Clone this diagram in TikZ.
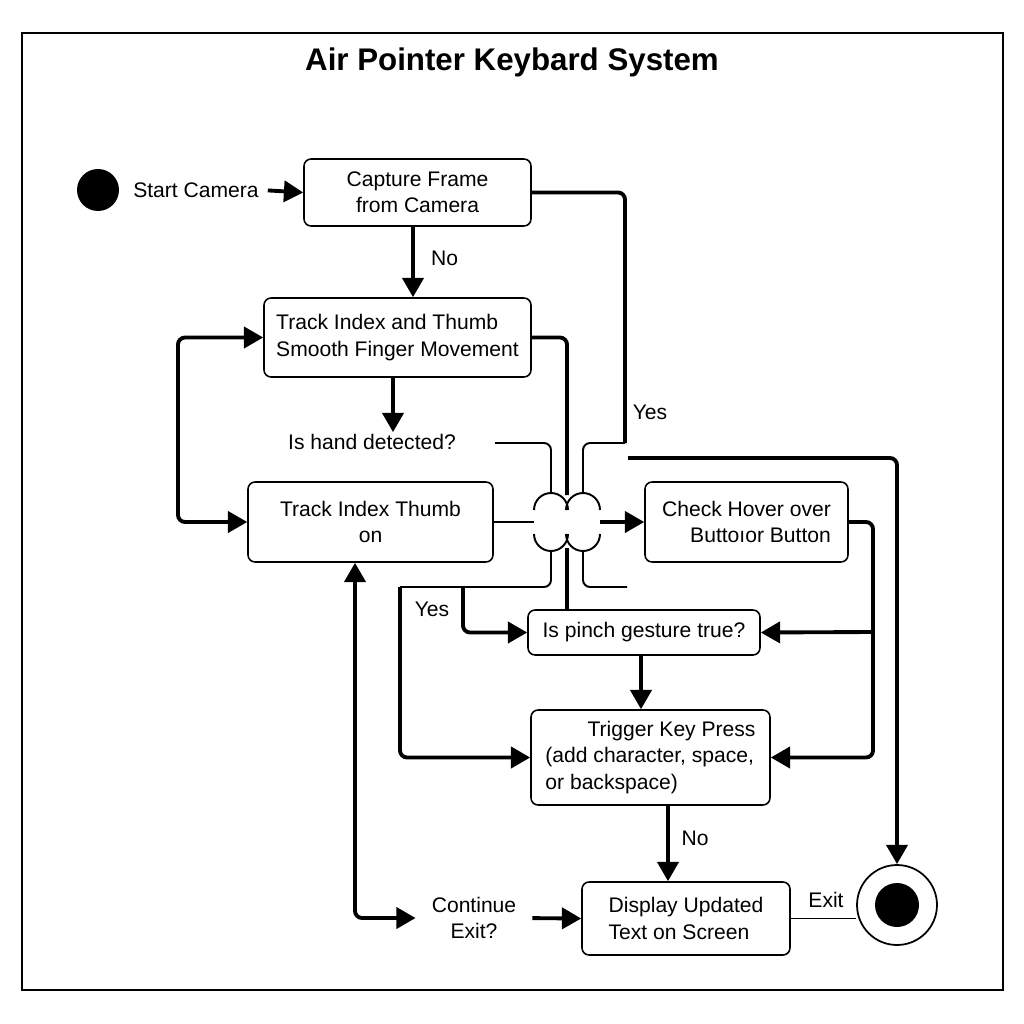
\documentclass[tikz,border=0pt]{standalone}
\usepackage{fontspec}
\setmainfont{Liberation Sans}
\usetikzlibrary{arrows.meta}
\tikzset{
  box/.style={draw,rounded corners=4pt,line width=0.9pt,fill=white,inner sep=4pt,font=\fontsize{12}{15}\selectfont},
  lbl/.style={font=\fontsize{12}{15}\selectfont,inner sep=1pt},
  arr/.style={-{Triangle[length=11pt,width=12pt]},line width=2.2pt,rounded corners=4pt},
  dbl/.style={{Triangle[length=11pt,width=12pt]}-{Triangle[length=11pt,width=12pt]},line width=2.2pt,rounded corners=4pt},
  thk/.style={line width=2.2pt,rounded corners=4pt},
  thn/.style={line width=1.1pt,rounded corners=4pt}
}
\begin{document}
\begin{tikzpicture}[x=0.02cm,y=-0.02cm]
    \useasboundingbox (0,0) rectangle (1024,1024);
    \draw[line width=1.2pt] (22,33) rectangle (1003,990);
    \node[font=\bfseries\fontsize{17.8}{20}\selectfont] (title) at (512,62) {Air Pointer Keybard System};

    \node[circle,fill,minimum size=0.84cm,inner sep=0pt] (start) at (98,190) {};
    \node[lbl] (scam) at (196,190) {Start Camera};
    \node[box,minimum width=4.54cm,minimum height=1.34cm,align=center] (cap) at (417.5,192.5) {Capture Frame\\from Camera};
    \node[box,minimum width=5.34cm,minimum height=1.58cm,align=left] (trk) at (397.5,337.5) {Track Index and Thumb\\Smooth Finger Movement};
    \node[lbl] (hand) at (372,442) {Is hand detected?};
    \node[box,minimum width=4.9cm,minimum height=1.6cm,align=center] (tit) at (370.5,522) {Track Index Thumb\\on};
    \node[box,minimum width=4.06cm,minimum height=1.6cm,align=right] (chk) at (746.5,522) {Check Hover over\\Buttoıor Button};
    \node[box,minimum width=4.64cm,minimum height=0.9cm] (pin) at (644,632.5) {Is pinch gesture true?};
    \node[box,minimum width=4.78cm,minimum height=1.9cm,align=left] (trg) at (650.5,757.5) {\hspace{24pt}Trigger Key Press\\(add character, space,\\or backspace)};
    \node[box,minimum width=4.16cm,minimum height=1.46cm,align=left] (dsp) at (686,918.5) {Display Updated\\Text on Screen};
    \node[lbl,align=center] (cont) at (474,918) {Continue\\Exit?};
    \node[circle,draw,line width=1pt,minimum size=1.6cm,inner sep=0pt] (endc) at (897,905) {};
    \fill (endc.center) circle[radius=22];

    \node[lbl,anchor=west] (no1) at (429,258) {No};
    \node[lbl] (yes1) at (650,412) {Yes};
    \node[lbl] (yes2) at (432,609) {Yes};
    \node[lbl] (no2) at (695,838) {No};
    \node[lbl] (exitl) at (826,900) {Exit};

    \coordinate (c1) at (413,0);
    \coordinate (c2) at (393,0);
    \coordinate (c3) at (641,0);
    \coordinate (c4) at (668,0);
    \coordinate (lp) at (178,430);
    \coordinate (up) at (355,910);
    \coordinate (yk) at (625,443);
    \coordinate (hd) at (495,443);
    \coordinate (brL) at (534,522);
    \coordinate (brR) at (600,522);
    \coordinate (bLt) at (551,493);
    \coordinate (bRt) at (583,493);
    \coordinate (bLb) at (551,551);
    \coordinate (bRb) at (583,551);
    \coordinate (gT) at (567,495);
    \coordinate (gB) at (567,548);
    \coordinate (ll) at (400,587);
    \coordinate (lm) at (463,587);
    \coordinate (rr) at (627,587);
    \coordinate (ye) at (628,458);
    \coordinate (rj) at (873,632);

    \draw[arr,shorten <=4pt] (scam.east) -- (cap.west);
    \draw[arr] (cap.south -| c1) -- (trk.north -| c1);
    \draw[arr] (trk.south -| c2) -- (hand.north -| c2);
    \draw[dbl] (trk.west) -| (lp) |- (tit.west);
    \draw[dbl] (tit.south -| up) |- ([xshift=-8pt]cont.west);
    \draw[arr,shorten <=8pt] (cont.east) -- (dsp.west);
    \draw[arr] (pin.south -| c3) -- (trg.north -| c3);
    \draw[arr] (trg.south -| c4) -- (dsp.north -| c4);
    \draw[thn] (dsp.east) -- (dsp.east -| endc.west);
    \draw[arr] (ye) -| (endc.north);
    \draw[arr] (chk.east) -| (rj) |- (trg.east);
    \draw[arr] (rj) -- (pin.east);

    \draw[thk] (cap.east) -| (yk);
    \draw[thn] (yk) -| (bRt);
    \draw[thn] (hd) -| (bLt);
    \draw[thk] (trk.east) -| (gT);
    \draw[thk] (gB) -- (pin.north -| gB);
    \draw[thn] (tit.east) -- (brL);
    \draw[arr] (brR) -- (chk.west);
    \draw[thn] (bLb) |- (ll);
    \draw[arr] (ll) |- (trg.west);
    \draw[arr] (lm) |- (pin.west);
    \draw[thn] (bRb) |- (rr);
    \draw[thn] (brL) ++(0,-12) arc[start angle=180,end angle=360,radius=17];
    \draw[thn] (brL) ++(0,12) arc[start angle=180,end angle=0,radius=17];
    \draw[thn] (brR) ++(0,-12) arc[start angle=0,end angle=-180,radius=17];
    \draw[thn] (brR) ++(0,12) arc[start angle=0,end angle=180,radius=17];
\end{tikzpicture}
\end{document}
